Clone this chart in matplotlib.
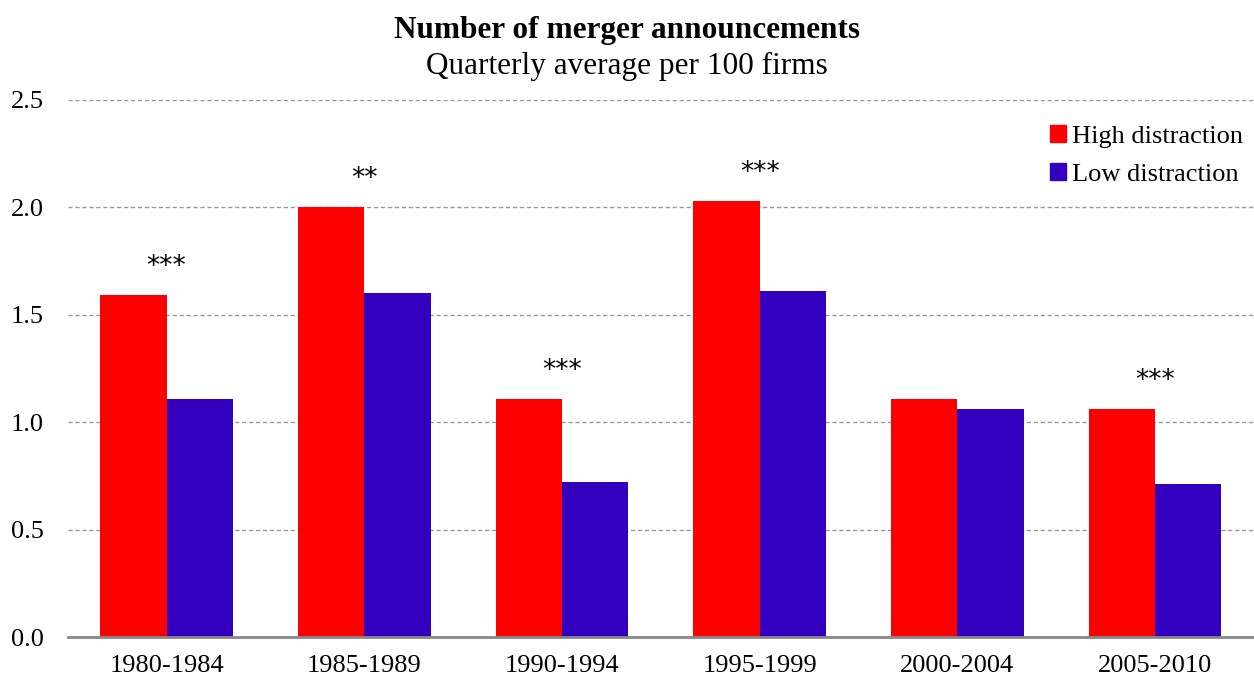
import numpy as np
import matplotlib.pyplot as plt
from matplotlib.patches import Patch

plt.rcParams['font.family'] = ['Liberation Serif', 'DejaVu Serif']

periods = ["1980-1984", "1985-1989", "1990-1994", "1995-1999", "2000-2004", "2005-2010"]
high = [1.59, 2.00, 1.11, 2.03, 1.11, 1.06]
low = [1.11, 1.60, 0.72, 1.61, 1.06, 0.71]
stars = ["***", "**", "***", "***", "", "***"]

red = "#FF0000"
blue = "#3300C0"

fig = plt.figure(figsize=(12.54, 6.81), dpi=100)
ax = fig.add_axes([0.054, 0.0646, 0.946, 0.7886])

x = np.arange(len(periods))
w = 0.335
ax.bar(x - w / 2, high, w, color=red, zorder=3)
ax.bar(x + w / 2, low, w, color=blue, zorder=3)

for i, s in enumerate(stars):
    if s:
        ax.text(x[i], high[i] + 0.07, s, ha="center", va="bottom",
                fontsize=19, family="DejaVu Sans")

ax.set_xlim(-0.5, len(periods) - 0.5)
ax.set_ylim(0, 2.5)
ax.set_yticks([0, 0.5, 1.0, 1.5, 2.0, 2.5])
ax.set_yticklabels(["0.0", "0.5", "1.0", "1.5", "2.0", "2.5"])
ax.set_xticks(x)
ax.set_xticklabels(periods)
ax.tick_params(axis="both", length=0, labelsize=19)
ax.tick_params(axis="x", pad=13)
ax.tick_params(axis="y", pad=17)

ax.yaxis.grid(True, linestyle=(0, (3, 2)), color="#999999", linewidth=1)
for side in ["top", "right", "left"]:
    ax.spines[side].set_visible(False)
ax.spines["bottom"].set_color("#888888")
ax.spines["bottom"].set_linewidth(2)
ax.spines["bottom"].set_zorder(4)

handles = [Patch(color=red, label="High distraction"),
           Patch(color=blue, label="Low distraction")]
ax.legend(handles=handles, loc="upper right", bbox_to_anchor=(1.0, 0.973),
          frameon=False, fontsize=19, handlelength=0.6, handleheight=0.6,
          handletextpad=0.25, labelspacing=0.58, borderaxespad=0.0)

fig.text(0.5, 0.955, "Number of merger announcements", ha="center", va="center",
         fontsize=22.5, fontweight="bold")
fig.text(0.5, 0.903, "Quarterly average per 100 firms", ha="center", va="center",
         fontsize=22.5)

fig.savefig("out.png", dpi=100)
